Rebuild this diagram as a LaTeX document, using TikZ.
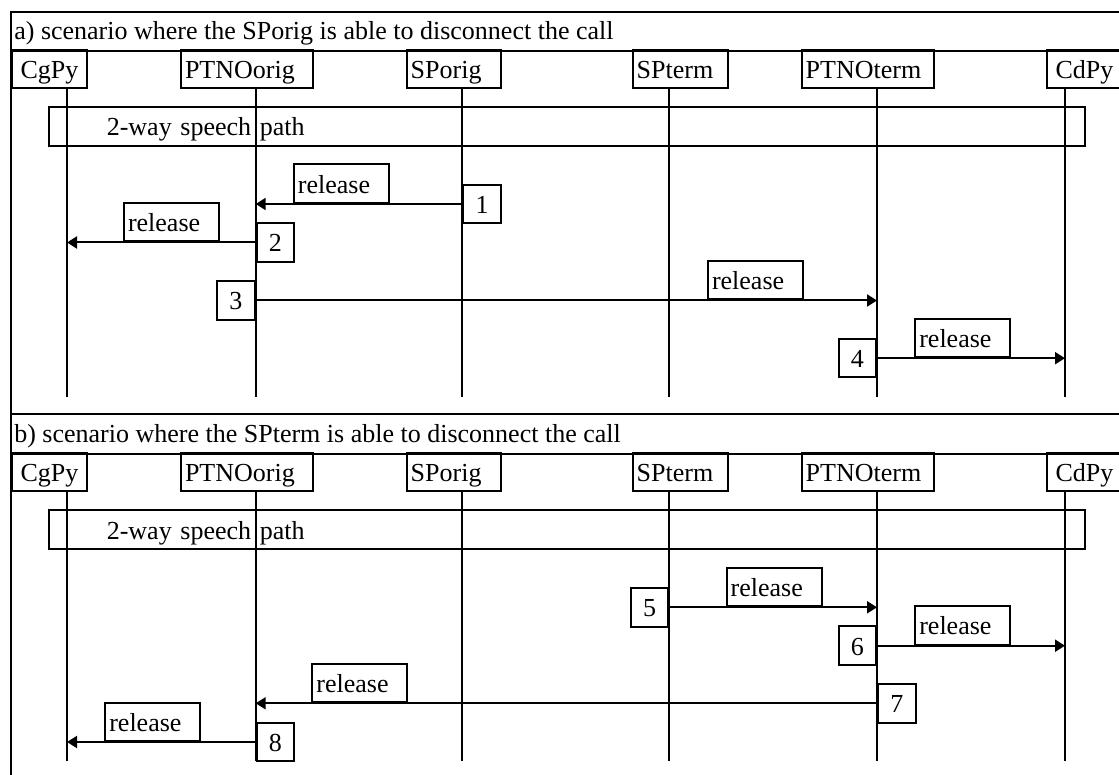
\documentclass[tikz,border=0pt]{standalone}
\usepackage{fontspec}
\setmainfont{Liberation Serif}
\usetikzlibrary{arrows.meta}
\newcommand\myfs{\fontsize{26pt}{30pt}\selectfont}
\begin{document}
\begin{tikzpicture}[x=1pt,y=-1pt,line width=2pt,
  every node/.style={font=\myfs},
  lane/.style={draw, line width=2pt, inner xsep=4pt, inner ysep=0pt, minimum height=38.5pt, text height=24pt, text depth=5pt, anchor=south west},
  numbox/.style={draw, line width=2pt, inner sep=0pt, minimum width=37.5pt, minimum height=38.5pt, text height=24pt, text depth=5pt},
  relbox/.style={draw, line width=2pt, inner xsep=4pt, inner ysep=0pt, minimum height=38.5pt, text height=24pt, text depth=5pt, text width=87pt, align=left, anchor=south west},
  speechbox/.style={draw, line width=2pt, inner xsep=57.5pt, inner ysep=0pt, minimum height=38.4pt, text height=24pt, text depth=5pt, text width=920.7pt, align=left, anchor=south west},
  msg/.style={line width=2pt, -{Triangle[length=10pt,width=12pt]}},
  life/.style={line width=2pt},
  frame/.style={line width=2pt}
]
\useasboundingbox (0,0) rectangle (1119,775);
\clip (0,0) rectangle (1119,775);

% lifeline x positions
\coordinate (xcg) at (67,0);
\coordinate (xpo) at (255.7,0);
\coordinate (xso) at (462.3,0);
\coordinate (xst) at (669.3,0);
\coordinate (xpt) at (877,0);
\coordinate (xcd) at (1065,0);

% outer frame and separators
\draw[frame] (11,800) -- (11,12.3) -- (1130,12.3);
\draw[frame] (11,51) -- (1130,51);
\draw[frame] (11,414.3) -- (1130,414.3);
\draw[frame] (11,454) -- (1130,454);

\foreach \s/\dy/\who/\bot in {a/0/SPorig/396.7, b/403/SPterm/761}{
  \node[anchor=base west, inner sep=0pt] (\s-title) at (13.3,{39.3+\dy}) {\s) scenario where the \who\ is able to disconnect the call};
  \node[lane, text width=67pt, align=center] (\s-cg) at (11,{89.3+\dy}) {CgPy};
  \node[lane, text width=124pt, align=left] (\s-po) at (180,{89.3+\dy}) {PTNOorig};
  \node[lane, text width=86.3pt, align=left] (\s-so) at (405.7,{89.3+\dy}) {SPorig};
  \node[lane, text width=87pt, align=left] (\s-st) at (631.7,{89.3+\dy}) {SPterm};
  \node[lane, text width=124.6pt, align=left] (\s-pt) at (800.7,{89.3+\dy}) {PTNOterm};
  \node[lane, text width=67pt, align=center] (\s-cd) at (1046,{89.3+\dy}) {CdPy};
  \foreach \n/\x in {cg/67, po/255.7, so/462.3, st/669.3, pt/877, cd/1065}{
    \coordinate (\s-\n-top) at (\x,{89.3+\dy});
    \coordinate (\s-\n-bot) at (\x,\bot);
    \draw[life] (\s-\n-top) -- (\s-\n-bot);
  }
  \node[speechbox] (\s-sp) at (48.3,{146.7+\dy}) {2-way speech path};
}

% scenario a)
\node[numbox, anchor=west] (m1) at (462.3,204) {1};
\draw[msg] (m1.west) -- (m1.west -| xpo);
\node[relbox] (r1) at (292.9,204) {release};

\node[numbox, anchor=west] (m2) at (255.7,242.5) {2};
\draw[msg] (m2.west) -- (m2.west -| xcg);
\node[relbox] (r2) at (123,242.5) {release};

\node[numbox, anchor=east] (m3) at (255.7,300.5) {3};
\draw[msg] (m3.east) -- (m3.east -| xpt);
\node[relbox] (r3) at (707,300.5) {release};

\node[numbox, anchor=east] (m4) at (877,358.2) {4};
\draw[msg] (m4.east) -- (m4.east -| xcd);
\node[relbox] (r4) at (914.3,358.2) {release};

% scenario b)
\node[numbox, anchor=east] (m5) at (669.3,607.3) {5};
\draw[msg] (m5.east) -- (m5.east -| xpt);
\node[relbox] (r5) at (725.7,607.3) {release};

\node[numbox, anchor=east] (m6) at (877,645.7) {6};
\draw[msg] (m6.east) -- (m6.east -| xcd);
\node[relbox] (r6) at (914.3,645.7) {release};

\node[numbox, anchor=west] (m7) at (877,703.3) {7};
\draw[msg] (m7.west) -- (m7.west -| xpo);
\node[relbox] (r7) at (311.4,703.3) {release};

\node[numbox, anchor=west] (m8) at (255.7,742) {8};
\draw[msg] (m8.west) -- (m8.west -| xcg);
\node[relbox] (r8) at (104.3,742) {release};
\end{tikzpicture}
\end{document}
